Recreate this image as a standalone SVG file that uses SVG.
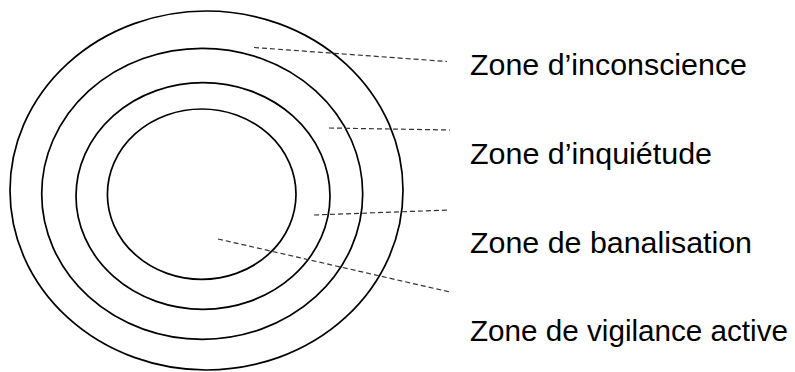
<svg xmlns="http://www.w3.org/2000/svg" width="795" height="372" viewBox="0 0 795 372">
<style>
.ring{fill:none;stroke:#000;stroke-width:1.7}
.lead{stroke:#333;stroke-width:1.2;stroke-dasharray:5,3;fill:none}
.lbl{font-family:"Liberation Sans",Arial,sans-serif;font-size:30px;fill:#000}
</style>
<rect width="795" height="372" fill="#fff"/>
<g id="zone-inconscience"><ellipse class="ring" cx="206.5" cy="190.5" rx="196.5" ry="179.5"/></g>
<g id="zone-inquietude"><ellipse class="ring" cx="202.2" cy="193.8" rx="160.5" ry="145.5"/></g>
<g id="zone-banalisation"><ellipse class="ring" cx="203" cy="196" rx="127" ry="113.3"/></g>
<g id="zone-vigilance"><ellipse class="ring" cx="201.7" cy="194.2" rx="94.3" ry="85.2"/></g>
<g id="connectors">
<line class="lead" x1="254" y1="47.5" x2="447" y2="61.5"/>
<line class="lead" x1="329" y1="128" x2="450" y2="130"/>
<line class="lead" x1="314" y1="215" x2="450" y2="210"/>
<line class="lead" x1="218" y1="239" x2="450" y2="292"/>
</g>
<g id="labels">
<text class="lbl" x="470" y="74.5" textLength="277" lengthAdjust="spacingAndGlyphs">Zone d’inconscience</text>
<text class="lbl" x="470" y="163.5" textLength="242" lengthAdjust="spacingAndGlyphs">Zone d’inquiétude</text>
<text class="lbl" x="470" y="252.5" textLength="282" lengthAdjust="spacingAndGlyphs">Zone de banalisation</text>
<text class="lbl" x="470" y="341" textLength="318" lengthAdjust="spacingAndGlyphs">Zone de vigilance active</text>
</g>
</svg>
